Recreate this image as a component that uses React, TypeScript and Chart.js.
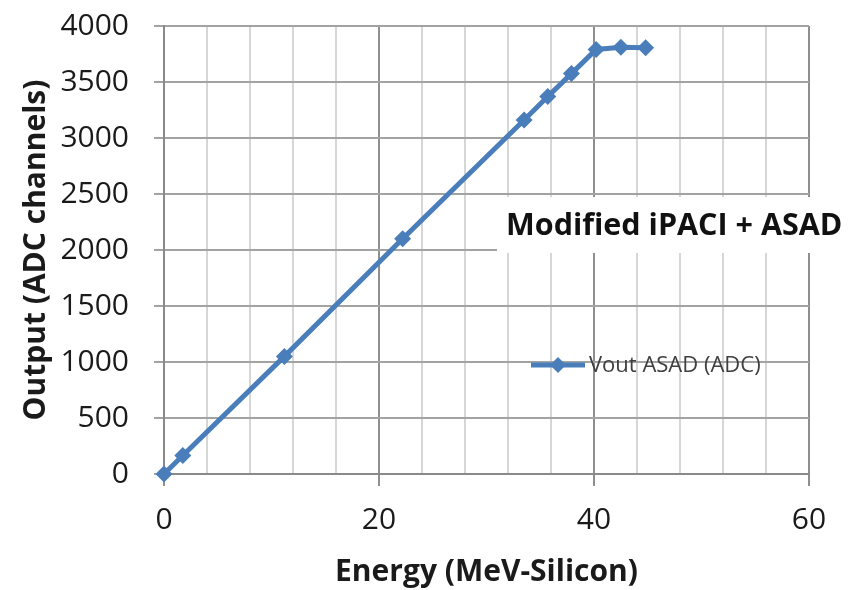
import React, { useEffect, useRef } from "react";
import { Chart, registerables } from "chart.js";

Chart.register(...registerables);

const energy = [0, 1.75, 11.2, 22.2, 33.5, 35.7, 37.9, 40.2, 42.5, 44.8];
const output = [0, 165, 1050, 2100, 3160, 3370, 3575, 3790, 3810, 3805];
const seriesLabel = "Vout ASAD (ADC)";
const chartTitle = "Modified iPACI + ASAD";
const xTitle = "Energy (MeV-Silicon)";
const yTitle = "Output (ADC channels)";
const xLabelStep = 20;

const FONT = '"Open Sans", "DejaVu Sans", sans-serif';
const BLUE = "#4a7ebb";

const overlayPlugin = {
  id: "overlay",
  beforeDatasetsDraw(chart: any) {
    const ctx = chart.ctx as CanvasRenderingContext2D;
    ctx.save();
    // title box
    ctx.fillStyle = "#ffffff";
    ctx.fillRect(497, 197, 352, 56);
    ctx.font = `bold 30.5px ${FONT}`;
    ctx.fillStyle = "#111111";
    ctx.textAlign = "left";
    ctx.textBaseline = "middle";
    ctx.fillText(chartTitle, 506, 226);
    // legend
    const ly = 365;
    ctx.strokeStyle = BLUE;
    ctx.lineWidth = 5;
    ctx.beginPath();
    ctx.moveTo(531, ly);
    ctx.lineTo(585, ly);
    ctx.stroke();
    ctx.fillStyle = BLUE;
    ctx.beginPath();
    const r = 8;
    ctx.moveTo(558, ly - r);
    ctx.lineTo(558 + r, ly);
    ctx.lineTo(558, ly + r);
    ctx.lineTo(558 - r, ly);
    ctx.closePath();
    ctx.fill();
    ctx.font = `22px ${FONT}`;
    ctx.fillStyle = "#404040";
    ctx.fillText(chart.data.datasets[0].label, 589, ly + 1);
    ctx.restore();
  },
};

export default function App() {
  const ref = useRef<HTMLCanvasElement | null>(null);
  useEffect(() => {
    if (!ref.current) return;
    const chart = new Chart(ref.current, {
      type: "line",
      data: {
        datasets: [
          {
            label: seriesLabel,
            data: energy.map((x, i) => ({ x, y: output[i] })),
            borderColor: BLUE,
            backgroundColor: BLUE,
            borderWidth: 5,
            pointStyle: "rectRot",
            pointRadius: 8.5,
            pointBorderWidth: 0,
            pointBackgroundColor: BLUE,
            tension: 0,
            clip: false,
          },
        ],
      },
      options: {
        responsive: false,
        animation: false,
        layout: { padding: { top: 26, right: 40, left: 0, bottom: 0 } },
        plugins: {
          legend: { display: false },
          title: { display: false },
          tooltip: { enabled: false },
        },
        scales: {
          x: {
            type: "linear",
            min: 0,
            max: 60,
            afterFit: (s: any) => {
              s.height = 116;
              s.paddingLeft = 0;
              s.paddingRight = 0;
            },
            ticks: {
              stepSize: 4,
              autoSkip: false,
              maxRotation: 0,
              padding: 16,
              color: "#1a1a1a",
              font: { family: FONT, size: 30 },
              callback: (v: any) => (Number(v) % xLabelStep === 0 ? String(v) : ""),
            },
            grid: {
              lineWidth: 2,
              tickLength: 12,
              color: (c: any) =>
                c.tick && c.tick.value % xLabelStep === 0 ? "#8f8f8f" : "#d6d6d6",
              tickColor: (c: any) =>
                c.tick && c.tick.value % xLabelStep === 0 ? "#8f8f8f" : "rgba(0,0,0,0)",
            },
            border: { color: "#8a8a8a", width: 2 },
            title: {
              display: true,
              text: xTitle,
              color: "#1a1a1a",
              font: { family: FONT, size: 30, weight: "bold" },
              padding: { top: 0, bottom: 0 },
            },
          },
          y: {
            type: "linear",
            min: 0,
            max: 4000,
            afterFit: (s: any) => {
              s.width = 164;
              s.paddingTop = 0;
              s.paddingBottom = 0;
            },
            ticks: {
              stepSize: 500,
              padding: 25,
              color: "#1a1a1a",
              font: { family: FONT, size: 30 },
              callback: (v: any) => String(v),
            },
            grid: {
              lineWidth: 2,
              tickLength: 10,
              color: "#a3a3a3",
              tickColor: "#a3a3a3",
            },
            border: { color: "#8a8a8a", width: 2 },
            title: {
              display: true,
              text: yTitle,
              color: "#1a1a1a",
              font: { family: FONT, size: 30, weight: "bold" },
              padding: { top: 18, bottom: 0 },
            },
          },
        },
      },
      plugins: [overlayPlugin],
    } as any);
    return () => chart.destroy();
  }, []);
  return (
    <div style={{ position: "fixed", left: 0, top: 0, width: 849, height: 590, background: "#fff" }}>
      <canvas ref={ref} width={849} height={590} style={{ display: "block" }} />
    </div>
  );
}
